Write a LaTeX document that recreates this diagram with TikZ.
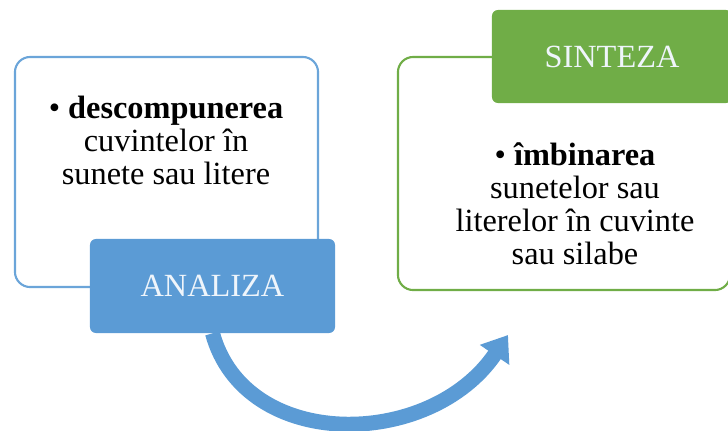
\documentclass[tikz,border=0pt]{standalone}
\usepackage{fontspec}
\setmainfont{Liberation Serif}
\usetikzlibrary{arrows.meta}
\definecolor{anblue}{HTML}{5B9BD5}
\definecolor{singreen}{HTML}{70AD47}

\begin{document}
\begin{tikzpicture}[x=0.025cm,y=-0.025cm]
    \tikzstyle{frame}=[draw,line width=1.5pt,rounded corners=0.38cm,inner sep=0pt]
    \tikzstyle{label box}=[rounded corners=0.15cm,inner sep=0pt,text=white!90!anblue,font=\fontsize{23}{23}\selectfont]
    \tikzstyle{analiza box}=[label box,fill=anblue,minimum width=6.125cm,minimum height=2.35cm]
    \tikzstyle{sinteza box}=[label box,fill=singreen,minimum width=6cm,minimum height=2.325cm]
    \tikzstyle{body}=[align=center,font=\fontsize{23}{23.5}\selectfont]

    \clip (0,0) rectangle (728,430);

    % Draw the outlined boxes
    \node[frame,draw=anblue!90,minimum width=7.575cm,minimum height=5.75cm] (left) at (166.5,172) {};
    \node[frame,draw=singreen,minimum width=8.3cm,minimum height=5.825cm] (right) at (564,173.5) {};

    % Text inside the boxes
    \node[body] (lefttext) at (166,140) {• \textbf{descompunerea}\\cuvintelor în\\sunete sau litere};
    \node[body] (righttext) at (575,204) {• \textbf{îmbinarea}\\sunetelor sau\\literelor în cuvinte\\sau silabe};

    % Draw the coloured label boxes
    \node[analiza box] (analiza) at (212.5,286) {ANALIZA};
    \node[sinteza box] (sinteza) at (612,56.5) {SINTEZA};

    % Curved arrow from analysis to synthesis
    \coordinate (tip) at (508,335);
    \draw[anblue,line width=0.375cm,-{Triangle[length=0.6cm,width=0.85cm]}]
        (analiza.south) .. controls (245,452) and (430,450) .. (tip);
\end{tikzpicture}
\end{document}
